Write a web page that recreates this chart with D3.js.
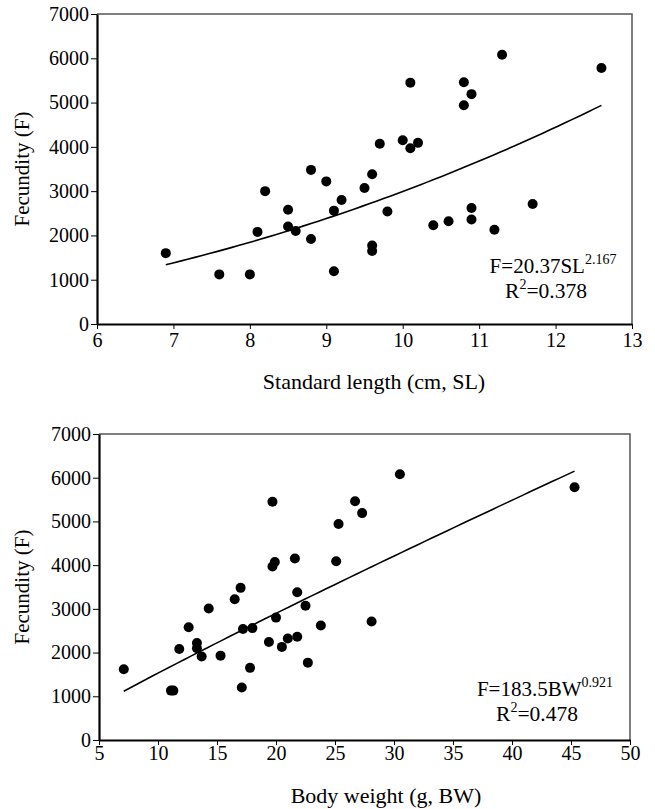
<!DOCTYPE html>
<html>
<head>
<meta charset="utf-8">
<script src="https://cdn.jsdelivr.net/npm/d3@7"></script>
<style>
  body { margin: 0; background: #fff; }
</style>
</head>
<body>
<svg id="chart" width="655" height="809"></svg>
<script>
// standard length (cm) vs fecundity
const slX = [6.9, 7.6, 8.0, 8.1, 8.2, 8.5, 8.5, 8.6, 8.8, 8.8, 9.0, 9.1, 9.1, 9.2, 9.5, 9.6, 9.6, 9.6,
  9.7, 9.8, 10.0, 10.1, 10.2, 10.1, 10.4, 10.6, 10.8, 10.8, 10.9, 10.9, 10.9, 11.2, 11.3, 11.7, 12.6];
const slF = [1600, 1120, 1120, 2080, 3000, 2580, 2200, 2100, 3480, 1920, 3220, 2560, 1190, 2800, 3070, 3380, 1770, 1650,
  4070, 2540, 4150, 3970, 4090, 5450, 2230, 2320, 5460, 4940, 5190, 2620, 2360, 2130, 6080, 2710, 5780];

// body weight (g) vs fecundity
const bwX = [7.1, 11.1, 11.3, 11.8, 12.6, 13.3, 13.3, 13.7, 14.3, 15.3, 16.5, 17.0, 17.1, 17.2, 18.0, 17.8,
  19.4, 19.7, 19.7, 19.9, 20.0, 20.5, 21.0, 21.6, 21.8, 21.8, 22.5, 22.7, 23.8, 25.1, 25.3, 26.7, 27.3, 28.1, 30.5, 45.3];
const bwF = [1620, 1130, 1130, 2080, 2580, 2220, 2100, 1910, 3010, 1930, 3220, 3480, 1200, 2540, 2560, 1650,
  2240, 5450, 3970, 4070, 2800, 2130, 2320, 4150, 3380, 2360, 3070, 1770, 2620, 4090, 4940, 5460, 5190, 2710, 6080, 5780];

// fitted power curves F = a * x^b, as printed on the chart
const slFit = {a: 20.37, b: 2.167, from: 6.9, to: 12.6};
const bwFit = {a: 183.5, b: 0.921, from: 7.1, to: 45.3};

const slTicks = [6, 7, 8, 9, 10, 11, 12, 13];
const bwTicks = [5, 10, 15, 20, 25, 30, 35, 40, 45, 50];
const fTicks = [0, 1000, 2000, 3000, 4000, 5000, 6000, 7000];

const svg = d3.select("#chart");

function txt(sel, size) {
  return sel.style("font-family", '"Liberation Serif"').style("font-size", size + "px").attr("fill", "#000");
}

function panel(opt) {
  let g = svg.append("g");
  let x = d3.scaleLinear(opt.xdom, [opt.left, opt.right]);
  let y = d3.scaleLinear([0, 7000], [opt.bottom, opt.top]);

  // thin grey frame on top and right
  g.append("path")
    .attr("d", `M${opt.left},${opt.top}H${opt.right}V${opt.bottom}`)
    .attr("fill", "none")
    .attr("stroke", "#555")
    .attr("stroke-width", 1.5);

  let xa = g.append("g")
    .attr("transform", `translate(0,${opt.bottom})`)
    .call(d3.axisBottom(x).tickValues(opt.xticks).tickFormat(d3.format("d"))
      .tickSize(5).tickPadding(opt.xpad).tickSizeOuter(0));
  let ya = g.append("g")
    .attr("transform", `translate(${opt.left},0)`)
    .call(d3.axisLeft(y).tickValues(fTicks).tickFormat(d3.format("d"))
      .tickSize(6).tickPadding(2).tickSizeOuter(0));

  [xa, ya].forEach(a => {
    a.select(".domain").attr("stroke", "#000").attr("stroke-width", 2.2);
    a.selectAll(".tick line").attr("stroke", "#000").attr("stroke-width", 1);
    txt(a.selectAll(".tick text"), 20);
  });

  g.selectAll("circle")
    .data(opt.xs.map((d, i) => ({x: d, f: opt.fs[i]})))
    .join("circle")
    .attr("cx", d => x(d.x))
    .attr("cy", d => y(d.f))
    .attr("r", 5)
    .attr("fill", "#000");

  let fit = opt.fit;
  let xs = d3.range(0, 61).map(i => fit.from + (fit.to - fit.from) * i / 60);
  g.append("path")
    .datum(xs)
    .attr("fill", "none")
    .attr("stroke", "#000")
    .attr("stroke-width", 1.6)
    .attr("d", d3.line().x(d => x(d)).y(d => y(fit.a * Math.pow(d, fit.b))));

  txt(g.append("text"), 22)
    .attr("x", opt.xlabX)
    .attr("y", opt.xlabY)
    .attr("text-anchor", "middle")
    .text(opt.xlabel);

  txt(g.append("text"), 21)
    .attr("transform", `translate(29,${(opt.top + opt.bottom) / 2}) rotate(-90)`)
    .attr("text-anchor", "middle")
    .text("Fecundity (F)");

  let t1 = txt(g.append("text"), 21)
    .attr("x", opt.eqX).attr("y", opt.eqY)
    .attr("text-anchor", "middle");
  t1.append("tspan").text(opt.eq);
  t1.append("tspan").attr("dy", -9).style("font-size", "14px").text(fit.b.toFixed(3));

  let t2 = txt(g.append("text"), 21.5)
    .attr("x", opt.r2X).attr("y", opt.eqY + 25)
    .attr("text-anchor", "middle");
  t2.append("tspan").text("R");
  t2.append("tspan").attr("dy", -9).style("font-size", "14px").text("2");
  t2.append("tspan").attr("dy", 9).text("=" + opt.r2);
}

panel({
  xs: slX, fs: slF, fit: slFit, xdom: [6, 13], xticks: slTicks,
  left: 97, right: 632, top: 14, bottom: 324, xpad: 4,
  xlabel: "Standard length (cm, SL)", xlabX: 374, xlabY: 389,
  eq: "F=20.37SL", eqX: 553, eqY: 273, r2: "0.378", r2X: 546
});

panel({
  xs: bwX, fs: bwF, fit: bwFit, xdom: [5, 50], xticks: bwTicks,
  left: 99, right: 630, top: 434, bottom: 740, xpad: 1,
  xlabel: "Body weight (g, BW)", xlabX: 386, xlabY: 803,
  eq: "F=183.5BW", eqX: 545, eqY: 696, r2: "0.478", r2X: 537
});
</script>
</body>
</html>
